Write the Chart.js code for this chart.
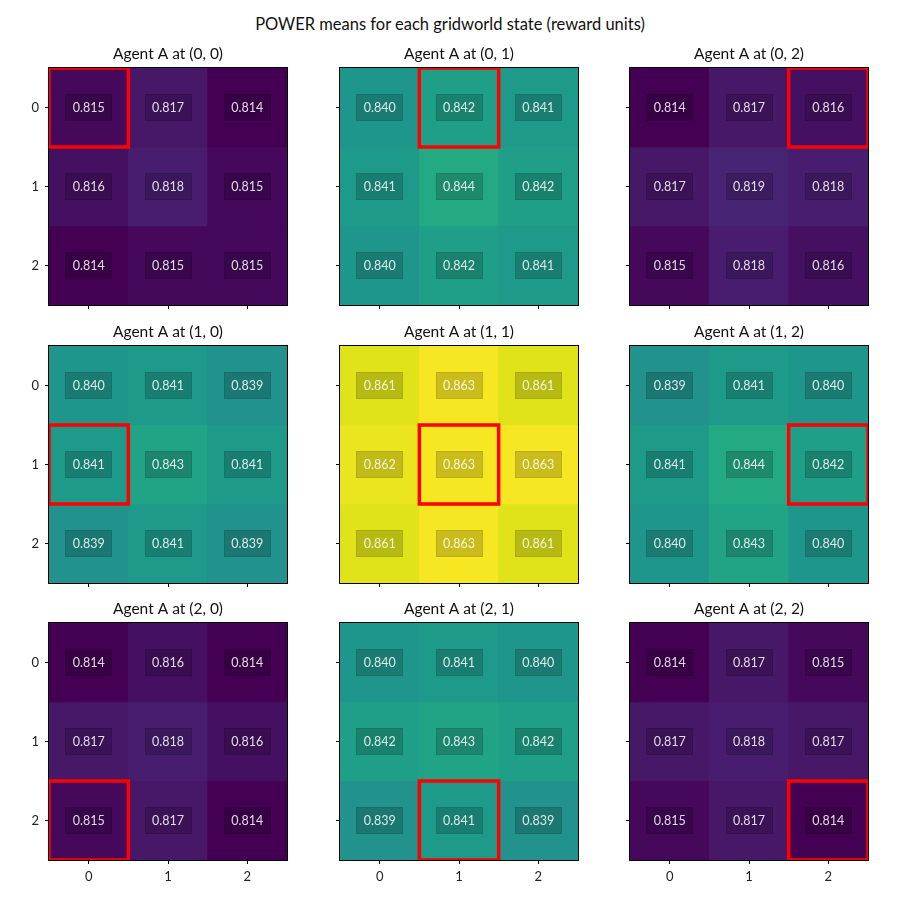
<!DOCTYPE html>
<html><head><meta charset="utf-8">
<script src="https://cdn.jsdelivr.net/npm/chart.js@4.4.1/dist/chart.umd.min.js"></script>
<style>
html,body{margin:0;padding:0;background:#fff;}
#wrap{position:relative;width:900px;height:900px;overflow:hidden;}
#sup{position:absolute;left:0;top:14px;width:900px;text-align:center;font:16.5px Lato, 'Noto Sans', sans-serif;color:#111;}
canvas{position:absolute;}
</style></head>
<body><div id="wrap"><div id="sup">POWER means for each gridworld state (reward units)</div></div>
<script>
// ---- data ----
const gridTicks = ['0', '1', '2'];
const agentPositions = [[0,0],[0,1],[0,2],[1,0],[1,1],[1,2],[2,0],[2,1],[2,2]];
const power_0_0 = [[0.815,0.817,0.814],[0.816,0.818,0.815],[0.814,0.815,0.815]];
const power_0_1 = [[0.840,0.842,0.841],[0.841,0.844,0.842],[0.840,0.842,0.841]];
const power_0_2 = [[0.814,0.817,0.816],[0.817,0.819,0.818],[0.815,0.818,0.816]];
const power_1_0 = [[0.840,0.841,0.839],[0.841,0.843,0.841],[0.839,0.841,0.839]];
const power_1_1 = [[0.861,0.863,0.861],[0.862,0.863,0.863],[0.861,0.863,0.861]];
const power_1_2 = [[0.839,0.841,0.840],[0.841,0.844,0.842],[0.840,0.843,0.840]];
const power_2_0 = [[0.814,0.816,0.814],[0.817,0.818,0.816],[0.815,0.817,0.814]];
const power_2_1 = [[0.840,0.841,0.840],[0.842,0.843,0.842],[0.839,0.841,0.839]];
const power_2_2 = [[0.814,0.817,0.815],[0.817,0.818,0.817],[0.815,0.817,0.814]];
const panels = [power_0_0,power_0_1,power_0_2,power_1_0,power_1_1,power_1_2,power_2_0,power_2_1,power_2_2];

// ---- styling ----
const FONT = "Lato, 'Noto Sans', sans-serif";
const viridis = [
 [0.00,[68,1,84]],[0.05,[71,19,101]],[0.10,[72,36,117]],[0.15,[71,47,125]],[0.20,[65,68,135]],
 [0.25,[59,82,139]],[0.30,[53,95,141]],[0.35,[46,111,142]],[0.40,[42,120,142]],[0.45,[37,133,142]],
 [0.50,[33,145,140]],[0.55,[30,155,138]],[0.60,[34,168,132]],[0.65,[53,183,121]],[0.70,[68,191,112]],
 [0.75,[94,201,98]],[0.80,[122,209,81]],[0.85,[155,217,60]],[0.90,[189,223,38]],[0.95,[223,227,24]],[1.00,[253,231,37]]];
function cmap(t){
  t=Math.max(0,Math.min(1,t));
  for(let i=1;i<viridis.length;i++){
    if(t<=viridis[i][0]){
      const a=viridis[i-1],b=viridis[i],f=(t-a[0])/(b[0]-a[0]);
      const c=a[1].map((v,k)=>Math.round(v+(b[1][k]-v)*f));
      return `rgb(${c[0]},${c[1]},${c[2]})`;
    }
  }
  return 'rgb(253,231,37)';
}
const allVals = panels.flat(2);
const vmin = Math.min(...allVals), vmax = Math.max(...allVals) + 0.0005;

const colLeft = [49, 340, 630];
const rowTop = [68, 346, 623];
const PW = 238, PH = 237, ML = 50, MR = 50, MT = 40, MB = 35;

const cellPlugin = {
  id: 'cells',
  afterDatasetsDraw(chart) {
    const {ctx, chartArea: ca, scales: {x, y}} = chart;
    const vals = chart.options.plugins.cells.values;
    const pos = chart.options.plugins.cells.agent;
    ctx.save();
    ctx.font = `12.5px ${FONT}`;
    ctx.textAlign = 'center';
    ctx.textBaseline = 'middle';
    for (let r = 0; r < 3; r++) for (let c = 0; c < 3; c++) {
      const cx = x.getPixelForValue(c), cy = y.getPixelForValue(r);
      const bw = 47, bh = 27;
      ctx.fillStyle = 'rgba(0,0,0,0.18)';
      ctx.fillRect(Math.round(cx - bw/2), Math.round(cy - bh/2), bw, bh);
      ctx.strokeStyle = 'rgba(0,0,0,0.08)';
      ctx.lineWidth = 1;
      ctx.strokeRect(Math.round(cx - bw/2)+0.5, Math.round(cy - bh/2)+0.5, bw-1, bh-1);
      ctx.fillStyle = 'rgba(255,255,255,0.85)';
      ctx.fillText(vals[r][c].toFixed(3), cx, cy + 0.5);
    }
    // agent marker
    ctx.save();
    ctx.beginPath();
    ctx.rect(ca.left, ca.top, ca.right - ca.left, ca.bottom - ca.top);
    ctx.clip();
    const [ar, ac] = pos;
    const x0 = x.getPixelForValue(ac - 0.5), x1 = x.getPixelForValue(ac + 0.5);
    const y0 = y.getPixelForValue(ar - 0.5), y1 = y.getPixelForValue(ar + 0.5);
    ctx.strokeStyle = '#ff0000';
    ctx.lineWidth = 3.5;
    ctx.strokeRect(x0, y0, x1 - x0, y1 - y0);
    ctx.restore();
    // frame
    ctx.strokeStyle = '#000';
    ctx.lineWidth = 1;
    ctx.strokeRect(Math.round(ca.left) - 0.5, Math.round(ca.top) - 0.5, Math.round(ca.right - ca.left) + 1, Math.round(ca.bottom - ca.top) + 1);
    ctx.restore();
  }
};

const wrap = document.getElementById('wrap');
panels.forEach((vals, i) => {
  const pr = Math.floor(i / 3), pc = i % 3;
  const cv = document.createElement('canvas');
  cv.width = PW + ML + MR; cv.height = PH + MT + MB;
  cv.style.width = cv.width + 'px'; cv.style.height = cv.height + 'px';
  cv.style.left = (colLeft[pc] - ML) + 'px';
  cv.style.top = (rowTop[pr] - MT) + 'px';
  wrap.appendChild(cv);
  const datasets = vals.map((row, r) => ({
    data: row.map(() => [r - 0.5, r + 0.5]),
    backgroundColor: row.map(v => cmap((v - vmin) / (vmax - vmin))),
    borderWidth: 0,
    barPercentage: 1,
    categoryPercentage: 1,
    grouped: false
  }));
  const pos = agentPositions[i];
  new Chart(cv, {
    type: 'bar',
    data: { labels: gridTicks, datasets },
    options: {
      responsive: false,
      animation: false,
      devicePixelRatio: 1,
      layout: { padding: 0, autoPadding: false },
      plugins: {
        legend: { display: false },
        tooltip: { enabled: false },
        title: {
          display: true,
          text: `Agent A at (${pos[0]}, ${pos[1]})`,
          font: { family: FONT, size: 15.5, weight: 'normal' },
          color: '#111',
          padding: { top: 17, bottom: 4.4 }
        },
        cells: { values: vals, agent: pos }
      },
      scales: {
        x: {
          type: 'category',
          offset: true,
          grid: { offset: false, drawOnChartArea: false, drawTicks: true, tickLength: 4, color: '#000', lineWidth: 1 },
          border: { display: false },
          ticks: { color: pr === 2 ? '#222' : 'rgba(0,0,0,0)', font: { family: FONT, size: 13 }, padding: 5, maxRotation: 0 },
          afterFit(s) { s.height = MB; }
        },
        y: {
          type: 'linear',
          min: -0.5, max: 2.5,
          reverse: true,
          afterBuildTicks(s) { s.ticks = [{value: 0}, {value: 1}, {value: 2}]; },
          grid: { drawOnChartArea: false, drawTicks: true, tickLength: 4, color: '#000', lineWidth: 1 },
          border: { display: false },
          ticks: { color: pc === 0 ? '#222' : 'rgba(0,0,0,0)', font: { family: FONT, size: 13 }, padding: 6,
                   callback: (v) => gridTicks[v] },
          afterFit(s) { s.width = ML; }
        },
        yRight: {
          type: 'linear',
          position: 'right',
          display: true,
          min: -0.5, max: 2.5,
          grid: { display: false },
          border: { display: false },
          ticks: { display: false },
          afterFit(s) { s.width = MR; }
        }
      }
    },
    plugins: [cellPlugin]
  });
});
</script></body></html>
